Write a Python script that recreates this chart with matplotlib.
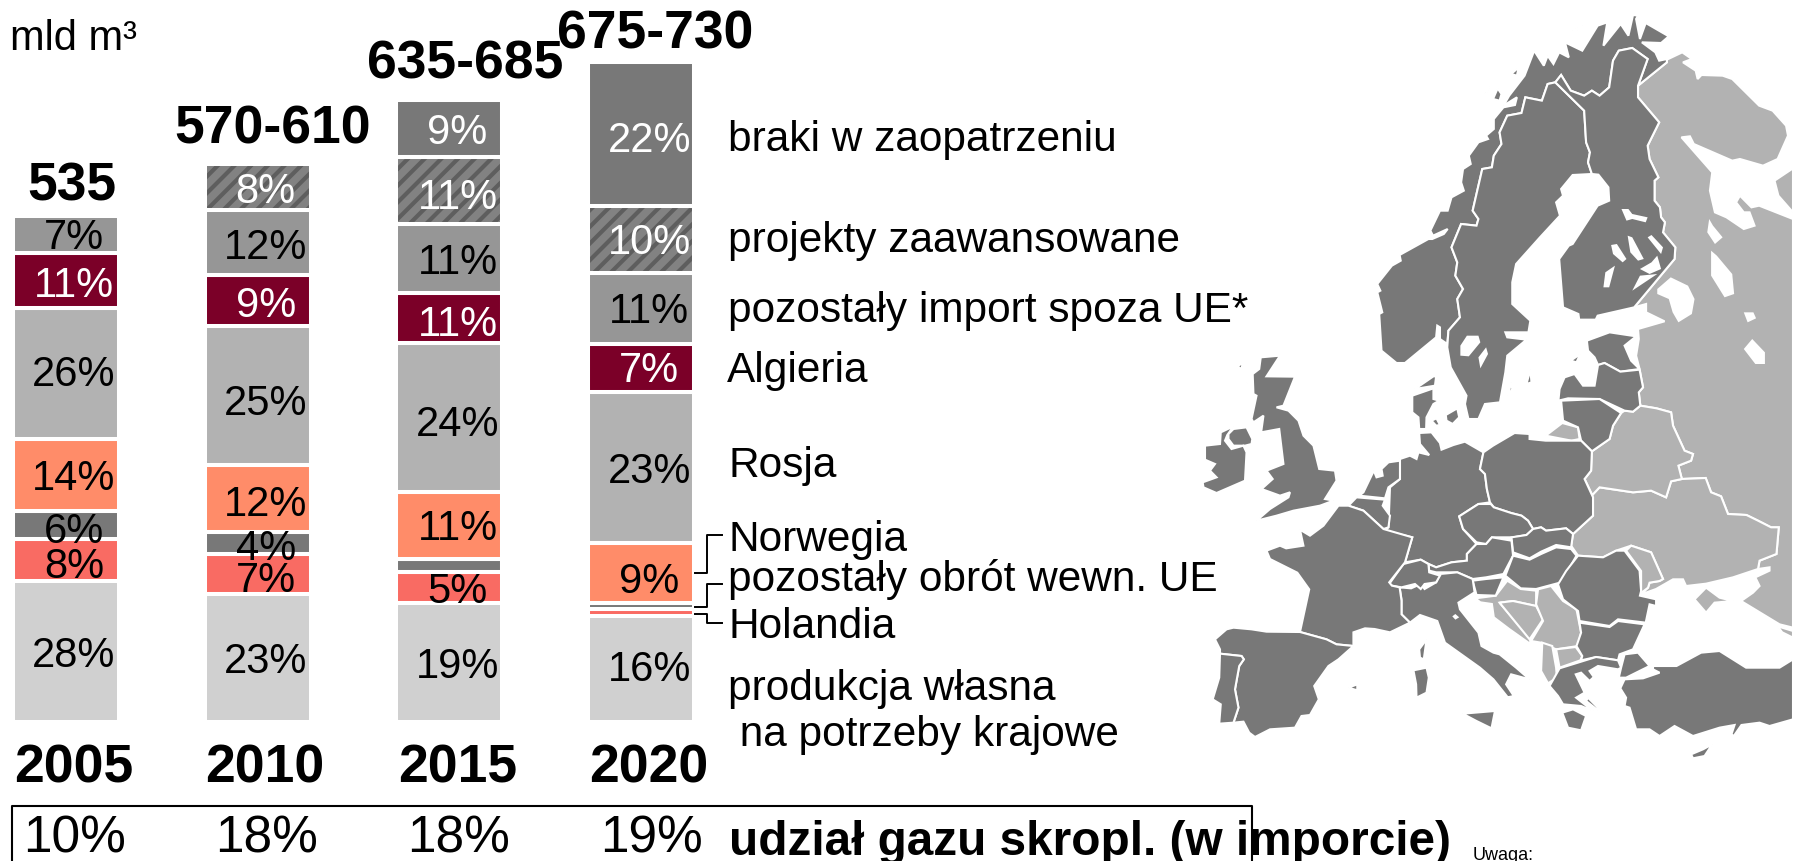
import numpy as np
import matplotlib
matplotlib.use("Agg")
import matplotlib.pyplot as plt
from matplotlib.patches import Polygon

plt.rcParams['font.family'] = ['Liberation Sans', 'DejaVu Sans']
plt.rcParams['hatch.linewidth'] = 3

years = ['2005', '2010', '2015', '2020']
totals = ['535', '570-610', '635-685', '675-730']
lng_share = ['10%', '18%', '18%', '19%']

# segment sizes in mld m3, bottom to top
produkcja = [150.3, 136.7, 126.9, 113.2]
holandia = [44.8, 42.8, 33.2, 7.5]
obrot = [31.0, 23.6, 13.8, 6.4]
norwegia = [76.3, 72.1, 72.1, 64.2]
rosja = [140.3, 148.5, 159.9, 161.7]
algieria = [58.6, 54.6, 52.7, 51.1]
poz_import = [39.6, 69.9, 74.4, 76.0]
projekty = [0, 48.9, 71.9, 72.1]
braki = [0, 0, 60.8, 154.2]

lab_produkcja = ['28%', '23%', '19%', '16%']
lab_holandia = ['8%', '7%', '5%', '']
lab_obrot = ['6%', '4%', '', '']
lab_norwegia = ['14%', '12%', '11%', '9%']
lab_rosja = ['26%', '25%', '24%', '23%']
lab_algieria = ['11%', '9%', '11%', '7%']
lab_import = ['7%', '12%', '11%', '11%']
lab_projekty = ['', '8%', '11%', '10%']
lab_braki = ['', '', '9%', '22%']

# how far each label sits below the middle of its segment, in px
nudge_produkcja = [3.4, 3.4, 3.4, 0]
nudge_holandia = [5.7, 5.7, 3.4, 0]
nudge_obrot = [5.7, 4.6, 0, 0]
nudge_norwegia = [3.4, 5.7, 2.3, 8]
nudge_rosja = [0, 8, 6.9, 3.4]
nudge_algieria = [4.6, 4.6, 5.7, 2.3]
nudge_import = [2.3, 4.6, 3.4, 2.3]
nudge_projekty = [0, 4.6, 6.9, 2.3]
nudge_braki = [0, 0, 3.4, 5.7]

series = [
    (produkcja, lab_produkcja, nudge_produkcja, '#d0d0d0', 'black', False),
    (holandia, lab_holandia, nudge_holandia, '#f96b63', 'black', False),
    (obrot, lab_obrot, nudge_obrot, '#787878', 'black', False),
    (norwegia, lab_norwegia, nudge_norwegia, '#ff8c69', 'black', False),
    (rosja, lab_rosja, nudge_rosja, '#b2b2b2', 'black', False),
    (algieria, lab_algieria, nudge_algieria, '#7b0028', 'white', False),
    (poz_import, lab_import, nudge_import, '#969696', 'black', False),
    (projekty, lab_projekty, nudge_projekty, '#828282', 'white', True),
    (braki, lab_braki, nudge_braki, '#787878', 'white', False),
]

legend_names = ['braki w zaopatrzeniu', 'projekty zaawansowane', 'pozostały import spoza UE*',
                'Algieria', 'Rosja', 'Norwegia', 'pozostały obrót wewn. UE', 'Holandia',
                'produkcja własna', ' na potrzeby krajowe']
legend_x = [728, 728, 728, 727, 728, 728, 728, 728, 728, 728]
legend_y = [151, 252.5, 322.5, 382, 477, 551, 591, 638, 700, 746]

# map outlines, traced on the 1568 x 2586 grid of the map box
dark_land = [
    # norway
    [(537,1092),(559,1092),(640,1015),(643,980),(650,985),(650,1020),(669,1035),(672,995),(702,955),(695,900),(710,870),(690,830),(695,790),(680,745),(705,675),(745,680),(750,660),(735,635),(760,510),(785,505),(790,470),(810,435),(805,400),(825,350),(862,342),(872,295),(915,305),(930,255),(950,250),(965,228),(990,275),(1025,290),(1045,275),(1065,290),(1090,265),(1100,185),(1115,155),(1150,147),(1190,180),(1165,260),(1240,190),(1240,180),(1220,185),(1210,160),(1175,130),(1225,132),(1245,112),(1185,72),(1170,120),(1160,60),(1165,50),(1152,48),(1140,110),(1120,75),(1075,140),(1085,70),(1060,80),(1020,155),(975,130),(985,175),(960,160),(945,195),(930,170),(920,200),(895,155),(870,230),(830,290),(815,320),(850,295),(845,318),(815,325),(790,360),(790,390),(770,410),(775,420),(750,430),(725,470),(730,495),(710,510),(705,550),(712,575),(680,595),(670,635),(650,635),(625,695),(632,710),(670,690),(660,705),(630,720),(620,720),(545,768),(548,785),(525,800),(487,855),(495,875),(487,880),(500,940),(492,945),(498,1055)],
    # sweden
    [(669,1045),(672,995),(702,955),(695,900),(710,870),(690,830),(695,790),(680,745),(705,675),(745,680),(750,660),(735,635),(760,510),(785,505),(790,470),(810,435),(805,400),(825,350),(862,342),(872,295),(915,305),(930,255),(950,250),(1025,335),(1030,430),(1040,460),(1035,490),(1045,525),(995,528),(965,570),(970,590),(952,610),(962,650),(910,715),(848,795),(838,850),(838,915),(885,965),(880,1000),(820,1000),(825,1015),(875,1022),(825,1070),(820,1120),(806,1210),(767,1215),(750,1260),(724,1260),(715,1215),(719,1190),(678,1105)],
    # finland
    [(950,250),(965,228),(990,275),(1025,290),(1045,275),(1065,290),(1090,265),(1100,185),(1115,155),(1150,147),(1190,180),(1165,260),(1165,295),(1220,370),(1190,440),(1195,480),(1218,535),(1208,545),(1208,605),(1222,625),(1225,655),(1235,670),(1230,700),(1262,745),(1260,780),(1155,925),(1060,950),(1055,962),(1012,962),(1010,945),(970,925),(960,780),(985,740),(995,735),(1060,620),(1090,605),(1088,565),(1062,527),(1045,525),(1035,490),(1040,460),(1030,430),(1025,335)],
    # estonia, latvia, lithuania
    [(1032,1025),(1091,1000),(1160,1012),(1130,1040),(1147,1085),(1169,1110),(1119,1118),(1078,1092),(1061,1098),(1052,1075),(1035,1055)],
    [(958,1205),(961,1170),(974,1135),(1000,1125),(1022,1160),(1052,1160),(1061,1098),(1078,1092),(1119,1118),(1169,1112),(1178,1165),(1167,1180),(1171,1220),(1152,1238),(1130,1235),(1065,1200),(983,1198)],
    [(965,1205),(1065,1200),(1121,1242),(1100,1280),(1091,1320),(1045,1357),(1017,1325),(1009,1285),(970,1265)],
    # denmark
    [(578,1190),(633,1168),(633,1200),(648,1205),(633,1215),(615,1255),(614,1290),(596,1290),(594,1255),(578,1240)],
    [(585,1170),(633,1132),(640,1132),(637,1160)],
    [(665,1248),(695,1228),(700,1255),(683,1275),(667,1265)],
    [(628,1265),(641,1258),(650,1278),(640,1280)],
    # germany
    [(546,1380),(572,1370),(589,1380),(594,1360),(622,1368),(598,1335),(596,1302),(628,1300),(650,1332),(654,1352),(685,1338),(715,1328),(763,1360),(754,1410),(767,1425),(772,1470),(780,1510),(750,1515),(700,1552),(710,1590),(745,1635),(720,1665),(720,1685),(680,1690),(640,1705),(620,1695),(600,1682),(559,1690),(578,1615),(507,1595),(516,1585),(520,1465),(546,1440)],
    # netherlands, belgium
    [(546,1385),(516,1390),(498,1410),(501,1430),(485,1435),(478,1415),(451,1480),(440,1490),(507,1498),(516,1465),(546,1440)],
    [(412,1520),(433,1495),(507,1502),(501,1520),(520,1550),(516,1585),(503,1590),(451,1535)],
    # poland
    [(763,1360),(788,1340),(844,1302),(883,1305),(883,1320),(925,1325),(992,1325),(1017,1325),(1045,1357),(1043,1415),(1026,1440),(1048,1495),(1048,1550),(996,1605),(978,1588),(926,1595),(913,1585),(892,1590),(879,1565),(862,1550),(835,1542),(790,1525),(780,1510),(772,1470),(767,1425),(754,1410)],
    # czechia, slovakia, austria, hungary, slovenia
    [(700,1552),(750,1515),(782,1515),(790,1525),(835,1542),(862,1550),(879,1565),(892,1590),(875,1608),(840,1615),(785,1615),(770,1635),(745,1630),(710,1590)],
    [(836,1615),(875,1608),(892,1590),(913,1585),(926,1595),(978,1588),(996,1605),(991,1645),(952,1638),(913,1658),(883,1678),(840,1660)],
    [(620,1695),(640,1705),(680,1690),(720,1685),(720,1665),(745,1635),(770,1635),(785,1615),(836,1625),(840,1670),(815,1725),(770,1735),(735,1740),(695,1720),(640,1720),(622,1715)],
    [(840,1670),(883,1682),(913,1665),(952,1645),(991,1650),(1005,1670),(965,1750),(900,1770),(860,1768),(820,1730)],
    [(735,1745),(770,1740),(815,1735),(795,1790),(745,1788)],
    # romania, bulgaria
    [(1009,1670),(1074,1675),(1108,1655),(1130,1655),(1169,1715),(1173,1776),(1170,1790),(1212,1801),(1212,1821),(1195,1816),(1185,1871),(1113,1861),(1091,1881),(1013,1866),(1009,1836),(970,1801),(957,1756),(978,1716)],
    [(1013,1871),(1091,1884),(1113,1866),(1182,1876),(1160,1931),(1152,1951),(1117,1966),(1113,1984),(1056,1974),(1017,1984),(1020,1971),(1005,1941),(1017,1901)],
    # greece
    [(961,2008),(1056,1974),(1113,1984),(1121,2006),(1113,2011),(1061,2001),(1039,2016),(1050,2034),(1039,2046),(1017,2021),(1003,2026),(1026,2081),(1004,2096),(1048,2136),(1017,2121),(970,2116),(957,2091),(935,2061)],
    [(968,2141),(996,2131),(1030,2151),(1017,2194),(983,2186)],
    [(1035,2096),(1065,2131),(1061,2134),(1030,2106)],
    [(1042,2246),(1082,2261),(1117,2254),(1082,2264)],
    [(1303,2266),(1334,2251),(1358,2236),(1338,2271),(1308,2278)],
    # turkey
    [(1130,1966),(1165,1961),(1195,2001),(1134,2036),(1115,2036),(1121,2006)],
    [(1204,2001),(1265,2001),(1329,1961),(1377,1956),(1446,2006),(1533,2006),(1568,1981),(1568,2161),(1507,2181),(1481,2171),(1434,2178),(1414,2211),(1408,2206),(1416,2178),(1377,2186),(1308,2211),(1260,2181),(1221,2211),(1195,2191),(1160,2191),(1143,2126),(1130,2121),(1134,2096),(1119,2068),(1130,2041),(1178,2038),(1221,2021),(1204,2011)],
    # italy, switzerland
    [(545,1765),(575,1768),(600,1755),(610,1770),(640,1750),(650,1725),(695,1720),(735,1740),(740,1780),(698,1811),(702,1831),(750,1901),(758,1941),(789,1961),(805,1966),(848,2006),(883,2041),(835,2026),(822,2056),(842,2091),(822,2096),(810,2136),(827,2096),(789,2041),(754,2006),(663,1931),(643,1866),(598,1848),(572,1871),(550,1846),(550,1801)],
    [(581,2014),(615,2006),(621,2036),(615,2081),(589,2096),(588,2056)],
    [(615,1921),(608,1981),(598,1976),(596,1951)],
    [(709,2144),(793,2136),(784,2188),(745,2166)],
    [(412,2066),(435,2056),(435,2074)],
    [(518,1755),(555,1695),(600,1682),(620,1695),(622,1720),(650,1730),(640,1750),(610,1755),(600,1770),(585,1755),(550,1765),(525,1760)],
    # france, spain, portugal
    [(386,1520),(412,1520),(451,1535),(503,1590),(578,1615),(559,1690),(518,1750),(525,1760),(545,1765),(550,1805),(550,1846),(572,1871),(520,1900),(480,1890),(455,1888),(425,1900),(425,1941),(381,1936),(355,1921),(286,1899),(310,1771),(279,1721),(260,1710),(208,1680),(199,1655),(234,1640),(250,1648),(295,1640),(286,1592),(312,1610),(347,1580)],
    [(65,1921),(95,1891),(113,1886),(160,1891),(199,1898),(286,1899),(355,1921),(381,1936),(425,1941),(386,1981),(360,2001),(323,2061),(335,2101),(312,2148),(290,2151),(273,2186),(208,2191),(169,2214),(154,2201),(139,2168),(113,2171),(126,2126),(117,2071),(128,2001),(140,1981),(134,1971),(78,1964),(78,1951)],
    [(78,1964),(134,1971),(140,1981),(128,2001),(117,2071),(126,2126),(113,2171),(76,2174),(80,2116),(59,2101),(76,2036)],
    # britain, ireland
    [(184,1075),(234,1070),(199,1132),(273,1133),(243,1220),(225,1225),(256,1235),(282,1265),(295,1310),(321,1340),(336,1410),(377,1415),(381,1445),(351,1500),(373,1505),(338,1520),(269,1535),(225,1550),(173,1565),(208,1530),(256,1495),(260,1480),(234,1490),(186,1470),(215,1440),(199,1415),(243,1395),(232,1290),(185,1300),(191,1250),(165,1270),(160,1260),(173,1190),(165,1185),(163,1125),(180,1110)],
    [(113,1290),(147,1285),(162,1320),(160,1335),(143,1340),(113,1340),(100,1320),(100,1305)],
    [(39,1340),(78,1335),(80,1300),(113,1282),(97,1308),(91,1325),(108,1350),(139,1340),(147,1360),(143,1445),(69,1482),(35,1465),(33,1450),(69,1435),(52,1415),(65,1395),(39,1382)],
    # small islands
    [(123,1102),(137,1092),(134,1110)],
    [(137,1140),(152,1160),(143,1155)],
    [(765,280),(780,262),(770,285)],
    [(788,300),(800,268),(810,285),(805,305)],
    [(835,225),(855,205),(850,230)],
    [(995,95),(1020,80),(1005,95)],
    [(990,1085),(1015,1065),(1005,1090)],
    [(875,1155),(885,1112),(888,1150)],
    [(825,1200),(835,1150),(838,1170)],
]

light_land = [
    # russia
    [(1165,260),(1240,190),(1240,182),(1280,160),(1305,180),(1282,190),(1315,215),(1320,240),(1330,228),(1385,230),(1410,240),(1480,320),(1515,335),(1550,380),(1555,410),(1528,480),(1490,500),(1430,480),(1410,485),(1310,435),(1300,412),(1278,415),(1358,520),(1352,575),(1365,640),(1395,655),(1440,690),(1468,680),(1455,640),(1440,640),(1420,610),(1430,590),(1460,625),(1480,620),(1568,660),(1568,1886),(1533,1876),(1433,1806),(1464,1781),(1481,1761),(1470,1735),(1507,1715),(1507,1705),(1477,1710),(1481,1685),(1525,1665),(1531,1585),(1511,1585),(1477,1565),(1447,1548),(1399,1545),(1381,1492),(1355,1480),(1341,1437),(1279,1440),(1270,1400),(1303,1385),(1308,1365),(1286,1355),(1256,1280),(1251,1240),(1213,1228),(1171,1220),(1167,1180),(1178,1165),(1169,1110),(1160,1070),(1167,1020),(1165,990),(1234,967),(1186,940),(1186,915),(1155,925),(1260,780),(1262,745),(1230,700),(1235,670),(1225,655),(1222,625),(1208,605),(1208,545),(1218,535),(1195,480),(1190,440),(1220,370),(1165,295)],
    [(1568,508),(1520,545),(1530,590),(1568,640)],
    # ukraine, crimea
    [(1048,1550),(996,1605),(991,1640),(1009,1670),(1074,1675),(1108,1655),(1147,1640),(1199,1660),(1230,1740),(1221,1746),(1195,1751),(1191,1766),(1173,1786),(1212,1770),(1256,1741),(1282,1741),(1290,1761),(1342,1754),(1412,1735),(1477,1710),(1481,1685),(1525,1665),(1531,1585),(1511,1585),(1477,1565),(1447,1548),(1399,1545),(1381,1492),(1355,1480),(1341,1437),(1279,1440),(1251,1447),(1238,1495),(1199,1475),(1152,1480),(1065,1465),(1046,1488)],
    [(1312,1801),(1342,1766),(1377,1796),(1412,1806),(1364,1811),(1342,1841)],
    # belarus, kaliningrad, moldova
    [(1045,1357),(1091,1320),(1100,1280),(1121,1242),(1130,1235),(1152,1238),(1171,1220),(1213,1228),(1251,1240),(1256,1280),(1286,1355),(1308,1365),(1303,1385),(1270,1400),(1279,1440),(1251,1447),(1238,1495),(1199,1475),(1152,1480),(1065,1465),(1046,1488),(1026,1440),(1043,1415)],
    [(925,1310),(968,1272),(1009,1285),(1013,1320),(992,1325)],
    [(1134,1655),(1147,1640),(1199,1660),(1230,1740),(1221,1746),(1195,1751),(1191,1766),(1173,1782),(1173,1716)],
    # balkans
    [(742,1798),(755,1810),(785,1815),(790,1855),(830,1890),(885,1935),(885,1920),(805,1811),(840,1806),(900,1821),(900,1775),(860,1770),(825,1745),(795,1790)],
    [(805,1811),(840,1806),(900,1821),(918,1861),(883,1921)],
    [(905,1771),(939,1761),(970,1806),(1005,1831),(1017,1901),(1009,1941),(952,1951),(913,1931),(887,1926),(918,1866),(900,1816)],
    [(952,1951),(1003,1944),(1020,1971),(1015,1984),(961,2006)],
    [(916,1931),(942,1941),(952,2006),(954,2036),(931,2053),(913,2016)],
    # caucasus
    [(1528,1882),(1568,1896),(1568,1916),(1540,1900)],
]

lakes = [
    [(720,1010),(750,1010),(755,1030),(725,1072),(703,1070),(703,1040)],
    [(770,1045),(775,1065),(755,1108),(750,1075)],
    [(1122,630),(1140,630),(1150,645),(1190,655),(1185,670),(1150,660),(1135,665)],
    [(1138,710),(1150,715),(1180,780),(1165,785),(1145,760)],
    [(1095,738),(1110,735),(1135,780),(1125,790),(1100,765)],
    [(1105,800),(1090,865),(1075,865),(1080,820)],
    [(1190,715),(1200,708),(1230,745),(1225,765)],
    [(1215,770),(1225,810),(1195,825),(1170,810),(1200,790)],
    [(1215,825),(1150,875),(1170,830)],
    [(1215,870),(1250,835),(1295,860),(1312,900),(1305,945),(1270,970),(1255,940),(1245,900),(1215,885)],
    [(1350,660),(1345,700),(1365,735),(1385,715),(1360,680)],
    [(1355,755),(1355,830),(1390,895),(1415,885),(1410,825),(1370,770)],
    [(1440,940),(1465,940),(1472,958),(1450,970)],
    [(1440,1050),(1462,1020),(1495,1060),(1495,1095),(1470,1095)],
    [(690,1845),(700,1855),(690,1862),(682,1852)],
]

fig = plt.figure(figsize=(17.93, 8.62), dpi=100)

# bars: 0.934 px per mld m3, base line at y=722.7 px, 191.7 px between bars
px_per_unit = 0.934
ax = fig.add_axes([0, 0, 1, 1])
ax.set_xlim(-66 / 191.7, (1793 - 66) / 191.7)
ax.set_ylim(-(862 - 722.7) / px_per_unit, 722.7 / px_per_unit)
ax.axis('off')

x = np.arange(len(years))
bottom = np.zeros(len(years))
bar_w = 0.553
edge_lw = 2.9
for vals, labels, nudges, color, text_color, hatched in series:
    vals = np.array(vals, dtype=float)
    mask = vals > 0
    if hatched:
        ax.bar(x[mask], vals[mask], bar_w, bottom=bottom[mask], facecolor=color,
               edgecolor='#5e5e5e', hatch='//', linewidth=0)
        ax.bar(x[mask], vals[mask], bar_w, bottom=bottom[mask], fill=False,
               edgecolor='white', linewidth=edge_lw)
    else:
        ax.bar(x[mask], vals[mask], bar_w, bottom=bottom[mask], color=color,
               edgecolor='white', linewidth=edge_lw)
    for i in x[mask]:
        if labels[i]:
            # 0.72 turns image px into points at dpi 100
            ax.annotate(labels[i], (i, bottom[i] + vals[i] / 2), xytext=(5.8, -nudges[i] * 0.72),
                        textcoords='offset points', ha='center', va='center',
                        fontsize=30, color=text_color, zorder=5)
    bottom = bottom + vals

# everything else is placed in image pixels
pix = fig.add_axes([0, 0, 1, 1])
pix.set_xlim(0, 1793)
pix.set_ylim(862, 0)
pix.axis('off')
pix.patch.set_alpha(0)

mp = fig.add_axes([1190 / 1793, 0, 603 / 1793, 1], zorder=-1)
mp.set_xlim(0, 1568)
mp.set_ylim(2586, 0)
mp.axis('off')
for shape in light_land:
    mp.add_patch(Polygon(shape, closed=True, facecolor='#b2b2b2', edgecolor='white', linewidth=1.5))
for shape in dark_land:
    mp.add_patch(Polygon(shape, closed=True, facecolor='#787878', edgecolor='white', linewidth=1.5))
for shape in lakes:
    mp.add_patch(Polygon(shape, closed=True, facecolor='white', edgecolor='none'))

pix.text(10, 49.5, 'mld m³', fontsize=30, va='baseline')

total_x = [72, 273, 465.5, 655]
total_y = [200.5, 143, 78.5, 48.5]
year_x = [74, 265, 458, 649]
share_x = [75, 266.5, 459, 651]
for i in range(len(years)):
    pix.text(total_x[i], total_y[i], totals[i], fontsize=38.5, fontweight='bold', ha='center', va='baseline')
    pix.text(year_x[i], 782.5, years[i], fontsize=38.5, fontweight='bold', ha='center', va='baseline')
    pix.text(share_x[i], 852.5, lng_share[i], fontsize=37, ha='center', va='baseline')

for name, lx, ly in zip(legend_names, legend_x, legend_y):
    pix.text(lx, ly, name, fontsize=30.5, va='baseline')

# connectors to the legend
pix.plot([695, 707.3, 707.3, 721.7], [574, 574, 535.7, 535.7], color='black', lw=1.4)
pix.plot([695, 707.3, 707.3, 721.7], [608.3, 608.3, 585, 585], color='black', lw=1.4)
pix.plot([695, 707.3, 707.3, 721.7], [615, 615, 624.3, 624.3], color='black', lw=1.4)

# open box along the bottom edge
pix.plot([12.4, 12.4, 1252.3, 1252.3], [870, 806.7, 806.7, 870], color='black', lw=1.5)
pix.text(729, 855, 'udział gazu skropl. (w imporcie)', fontsize=34.4, fontweight='bold', va='baseline')
pix.text(1473, 860, 'Uwaga:', fontsize=13, va='baseline')

fig.savefig('out.png', dpi=100)
